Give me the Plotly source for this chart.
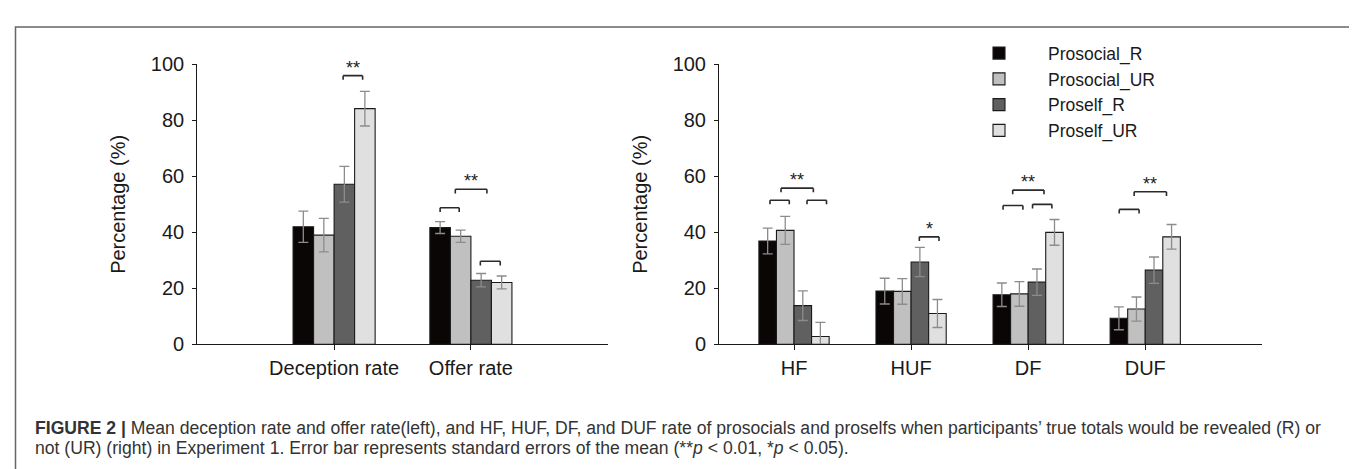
import plotly.graph_objects as go

# ---------------- data ----------------
categories_left = ["Deception rate", "Offer rate"]
categories_right = ["HF", "HUF", "DF", "DUF"]
series_names = ["Prosocial_R", "Prosocial_UR", "Proself_R", "Proself_UR"]

prosocial_r_left = [42.0, 41.7]
prosocial_ur_left = [39.0, 38.6]
proself_r_left = [57.2, 22.9]
proself_ur_left = [84.2, 22.1]

prosocial_r_left_se = [5.6, 2.1]
prosocial_ur_left_se = [6.0, 2.2]
proself_r_left_se = [6.4, 2.4]
proself_ur_left_se = [6.2, 2.3]

prosocial_r_right = [36.9, 19.0, 17.7, 9.3]
prosocial_ur_right = [40.7, 18.9, 18.0, 12.6]
proself_r_right = [13.8, 29.4, 22.2, 26.5]
proself_ur_right = [2.8, 11.0, 40.0, 38.4]

prosocial_r_right_se = [4.6, 4.6, 4.2, 4.1]
prosocial_ur_right_se = [5.0, 4.6, 4.4, 4.3]
proself_r_right_se = [5.3, 5.2, 4.7, 4.7]
proself_ur_right_se = [5.0, 5.0, 4.6, 4.4]

y_ticks = [0, 20, 40, 60, 80, 100]

# significance brackets: (panel, category index, from bar, to bar, level, label)
significance = [
    (0, 0, 1.94, 2.89, 96.0, "**"),
    (0, 1, 0.00, 0.93, 48.8, ""),
    (0, 1, 0.74, 2.28, 55.4, "**"),
    (0, 1, 1.96, 2.93, 29.7, ""),
    (1, 0, 0.13, 1.23, 51.5, ""),
    (1, 0, 0.76, 2.60, 55.8, "**"),
    (1, 0, 2.24, 3.35, 51.5, ""),
    (1, 1, 1.97, 3.09, 38.4, "*"),
    (1, 2, 0.07, 1.20, 49.6, ""),
    (1, 2, 0.62, 2.40, 55.1, "**"),
    (1, 2, 1.75, 2.85, 50.0, ""),
    (1, 3, 0.02, 1.15, 48.2, ""),
    (1, 3, 0.87, 2.71, 54.5, "**"),
]

caption_lines = [
    ("<b>FIGURE 2 |</b> Mean deception rate and offer rate(left), and HF, HUF, DF, and DUF rate of "
     "prosocials and proselfs when participants\u2019 true totals would be revealed (R) or"),
    ("not (UR) (right) in Experiment 1. Error bar represents standard errors of the mean "
     "(**<i>p</i> &lt; 0.01, *<i>p</i> &lt; 0.05)."),
]

# ---------------- style ----------------
W, H = 1357, 469
FONT = "Liberation Sans, Arial, sans-serif"
colors = ["#0a0606", "#c0c0c0", "#606060", "#e0e0e0"]
BARGAP = 0.4

left_vals = [prosocial_r_left, prosocial_ur_left, proself_r_left, proself_ur_left]
left_se = [prosocial_r_left_se, prosocial_ur_left_se, proself_r_left_se, proself_ur_left_se]
right_vals = [prosocial_r_right, prosocial_ur_right, proself_r_right, proself_ur_right]
right_se = [prosocial_r_right_se, prosocial_ur_right_se, proself_r_right_se, proself_ur_right_se]


def px_x(p):
    return p / W


def px_y(p):
    return 1 - p / H


fig = go.Figure()

for i, name in enumerate(series_names):
    for panel, cats, vals, ses in ((0, categories_left, left_vals, left_se),
                                   (1, categories_right, right_vals, right_se)):
        fig.add_trace(go.Bar(
            x=cats, y=vals[i], name=name,
            xaxis="x" if panel == 0 else "x2",
            yaxis="y" if panel == 0 else "y2",
            marker=dict(color=colors[i], line=dict(color="#1a1a1a", width=1.1)),
            error_y=dict(type="data", array=ses[i], color="#8c8c8c", thickness=1.3, width=5),
            showlegend=(panel == 0), legendgroup=name,
        ))

# brackets
n = len(series_names)
gw = 1 - BARGAP
leg = 1.5
shapes = []
annotations = []
for panel, ci, b0, b1, lvl, lab in significance:
    xr = "x" if panel == 0 else "x2"
    yr = "y" if panel == 0 else "y2"
    xa = ci - gw / 2 + gw / n * (b0 + 0.5)
    xb = ci - gw / 2 + gw / n * (b1 + 0.5)
    ln = dict(color="#2a2a2a", width=1.6)
    shapes.append(dict(type="line", xref=xr, yref=yr, x0=xa, x1=xb, y0=lvl, y1=lvl, line=ln))
    shapes.append(dict(type="line", xref=xr, yref=yr, x0=xa, x1=xa, y0=lvl, y1=lvl - leg, line=ln))
    shapes.append(dict(type="line", xref=xr, yref=yr, x0=xb, x1=xb, y0=lvl, y1=lvl - leg, line=ln))
    if lab:
        annotations.append(dict(xref=xr, yref=yr, x=(xa + xb) / 2, y=lvl, text=lab,
                                showarrow=False, yanchor="bottom", yshift=-4,
                                font=dict(family=FONT, size=18, color="#222")))

# outer frame
shapes.append(dict(type="rect", xref="paper", yref="paper",
                   x0=px_x(7.5), x1=px_x(1355), y0=-0.1, y1=px_y(8.5),
                   line=dict(color="#666666", width=1.5), fillcolor="rgba(0,0,0,0)", layer="below"))

# caption
for k, (line_txt, ypos) in enumerate(zip(caption_lines, (429, 450))):
    annotations.append(dict(xref="paper", yref="paper", x=px_x(25), y=px_y(ypos), xanchor="left",
                            yanchor="middle", align="left", showarrow=False, text=line_txt,
                            font=dict(family=FONT, size=17.6, color="#333333")))

axis_common = dict(showline=True, linecolor="#1a1a1a", linewidth=1.2, ticks="outside",
                   tickcolor="#1a1a1a", tickwidth=1.2, showgrid=False, zeroline=False,
                   tickfont=dict(family=FONT, size=20, color="#1a1a1a"))
x_common = dict(ticklen=5, ticklabelstandoff=1, **axis_common)
y_common = dict(ticklen=4, ticklabelstandoff=4, **axis_common)
ytitle = dict(text="Percentage (%)", standoff=19, font=dict(family=FONT, size=20, color="#1a1a1a"))

y_dom = [px_y(341.3), px_y(47.7)]

fig.update_layout(
    width=W, height=H,
    margin=dict(l=0, r=0, t=0, b=0),
    paper_bgcolor="white", plot_bgcolor="white",
    barmode="group", bargap=BARGAP, bargroupgap=0,
    font=dict(family=FONT, color="#1a1a1a"),
    xaxis=dict(domain=[px_x(189.3), px_x(599.7)], type="category",
               range=[-1, 2], anchor="y", **x_common),
    yaxis=dict(domain=y_dom, range=[0, 100], tickvals=y_ticks, anchor="x",
               title=ytitle, **y_common),
    xaxis2=dict(domain=[px_x(711.1), px_x(1254.3)], type="category",
                range=[-0.64, 4.0], anchor="y2", **x_common),
    yaxis2=dict(domain=y_dom, range=[0, 100], tickvals=y_ticks, anchor="x2",
                title=ytitle, **y_common),
    legend=dict(x=px_x(942), y=px_y(17), xanchor="left", yanchor="top",
                font=dict(family=FONT, size=17.5, color="#1a1a1a"),
                bgcolor="rgba(0,0,0,0)", itemwidth=88, tracegroupgap=0),
    shapes=shapes, annotations=annotations,
)

fig.write_html("out.html")
